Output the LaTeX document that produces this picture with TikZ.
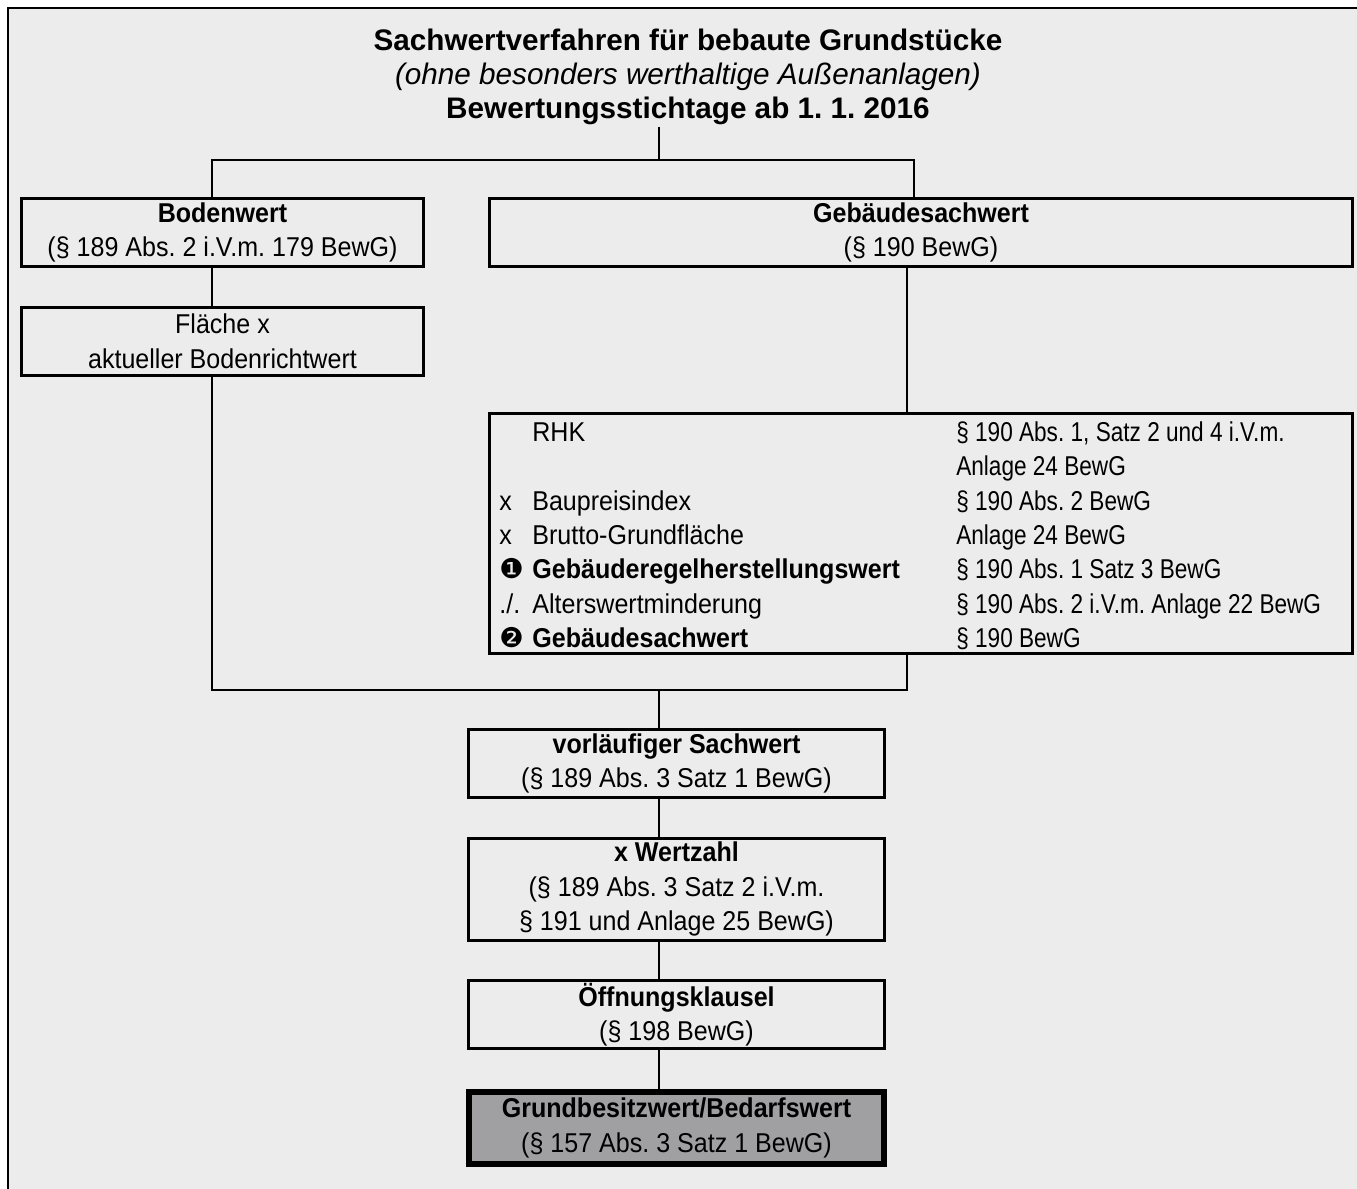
\documentclass[tikz,border=0pt]{standalone}
\usepackage{fontspec}
\setmainfont{Liberation Sans}
\newfontfamily\narrowfont[FakeStretch=0.92]{Liberation Sans}
\newfontfamily\lawfont[FakeStretch=0.83]{Liberation Sans}
\newfontfamily\dingfont{DejaVu Sans}
\usepackage{array}
\usepackage{tikz}
\usetikzlibrary{positioning}

\definecolor{paper}{RGB}{235,236,235}
\definecolor{resultgray}{RGB}{160,160,163}

\begin{document}
\frenchspacing
\begin{tikzpicture}[
  x=0.02cm, y=-0.02cm,
  node distance=0.75cm and 1.26cm,
  boxfont/.style={font=\narrowfont\fontsize{15.5}{19.6}\selectfont},
  box/.style={draw,line width=1.8pt,align=center,minimum height=1.36cm,
    inner sep=1pt,boxfont},
  result/.style={box,line width=3.4pt,fill=resultgray,minimum height=1.44cm},
  wire/.style={line width=1.2pt}
]
  \useasboundingbox (0,0) rectangle (1357,1189);
  \fill[paper] (8,8) rectangle (1357,1189);
  \draw[line width=1.5pt] (1357,8) -- (8,8) -- (8,1189);

  \node[align=center,inner sep=1pt,font=\fontsize{16.9}{19.3}\selectfont] (title) at (688,77)
    {\textbf{Sachwertverfahren für bebaute Grundstücke}\\
     \textit{(ohne besonders werthaltige Außenanlagen)}\\
     \textbf{Bewertungsstichtage ab 1. 1. 2016}};

  \node[box,minimum width=8.04cm] (boden) at (222.5,232.5)
    {\textbf{Bodenwert}\\(§ 189 Abs. 2 i.V.m. 179 BewG)};
  \node[box,minimum width=17.26cm,right=of boden] (gebsach)
    {\textbf{Gebäudesachwert}\\(§ 190 BewG)};
  \node[box,minimum width=8.04cm,below=of boden] (flaeche)
    {Fläche x\\aktueller Bodenrichtwert};
  \node[box,minimum width=17.26cm,minimum height=4.8cm,below=2.88cm of gebsach] (rhk) {};
  \node[boxfont,anchor=west,inner sep=0pt] (rhktext) at ([xshift=0.22cm,yshift=-0.08cm]rhk.west)
    {\begin{tabular}{@{}p{0.66cm}@{}p{8.48cm}@{}>{\lawfont}l@{}}
       & RHK & § 190 Abs. 1, Satz 2 und 4 i.V.m.\\
       & & Anlage 24 BewG\\
     x & Baupreisindex & § 190 Abs. 2 BewG\\
     x & Brutto-Grundfläche & Anlage 24 BewG\\
     {\dingfont ❶} & \textbf{Gebäuderegelherstellungswert} & § 190 Abs. 1 Satz 3 BewG\\
     ./. & Alterswertminderung & § 190 Abs. 2 i.V.m. Anlage 22 BewG\\
     {\dingfont ❷} & \textbf{Gebäudesachwert} & § 190 BewG
     \end{tabular}};

  \node[box,minimum width=8.32cm] (vorl) at (676.5,763.5)
    {\textbf{vorläufiger Sachwert}\\(§ 189 Abs. 3 Satz 1 BewG)};
  \node[box,minimum width=8.32cm,minimum height=2.04cm,below=of vorl] (wertzahl)
    {\textbf{x Wertzahl}\\(§ 189 Abs. 3 Satz 2 i.V.m.\\§ 191 und Anlage 25 BewG)};
  \node[box,minimum width=8.32cm,below=of wertzahl] (oeffnung)
    {\textbf{Öffnungsklausel}\\(§ 198 BewG)};
  \node[result,minimum width=8.3cm,below=0.77cm of oeffnung] (grund)
    {\textbf{Grundbesitzwert/Bedarfswert}\\(§ 157 Abs. 3 Satz 1 BewG)};

  % junctions
  \coordinate (lx) at (212,160);
  \coordinate (split) at (659,160);
  \coordinate (rx) at (914,160);
  \coordinate (ml) at (212,690);
  \coordinate (merge) at (659,690);
  \coordinate (mr) at (907,690);

  \draw[wire] (title.south -| split) -- (split);
  \draw[wire] (boden.north -| lx) -- (lx) -- (rx) -- (gebsach.north -| rx);
  \draw[wire] (boden.south -| lx) -- (flaeche.north -| lx);
  \draw[wire] (gebsach.south -| mr) -- (rhk.north -| mr);
  \draw[wire] (flaeche.south -| ml) -- (ml) -- (mr) -- (rhk.south -| mr);
  \draw[wire] (merge) -- (vorl.north -| merge);
  \draw[wire] (vorl.south -| merge) -- (wertzahl.north -| merge);
  \draw[wire] (wertzahl.south -| merge) -- (oeffnung.north -| merge);
  \draw[wire] (oeffnung.south -| merge) -- (grund.north -| merge);
\end{tikzpicture}
\end{document}
